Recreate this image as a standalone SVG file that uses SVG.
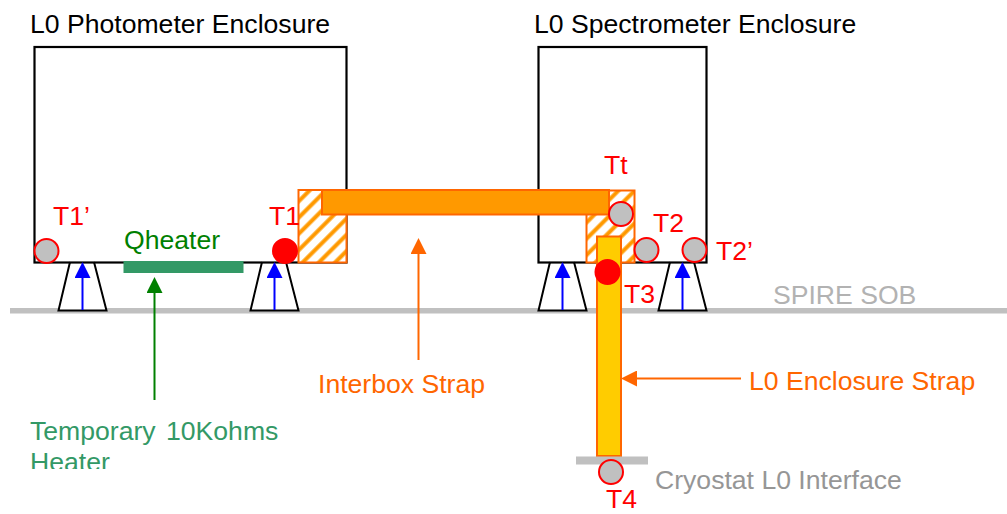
<svg xmlns="http://www.w3.org/2000/svg" width="1007" height="514" viewBox="0 0 1007 514">
<defs>
<pattern id="hatch" width="11.500" height="11.500" patternUnits="userSpaceOnUse" patternTransform="rotate(45 300 190)">
<rect width="11.500" height="11.500" fill="#fff"/>
<rect x="6.100" width="4" height="11.500" fill="#ff9900"/>
</pattern>
<marker id="ab" markerUnits="userSpaceOnUse" markerWidth="16" markerHeight="16" viewBox="0 0 16 16" refX="0" refY="8" orient="auto"><path d="M0 0L16 8L0 16Z" fill="context-stroke"/></marker>
<clipPath id="hclip"><rect x="0" y="400" width="320" height="69"/></clipPath>
</defs>
<style>
text{font-family:"Liberation Sans",Arial,sans-serif;font-size:26.6px}
.box{fill:none;stroke:#000;stroke-width:2.2}
.foot{fill:#fff;stroke:#000;stroke-width:2}
.up{stroke:#0000ff;stroke-width:2;fill:none}
.tg{fill:#c0c0c0;stroke:#ff0000;stroke-width:2}
.tf{fill:#ff0000;stroke:#ff0000;stroke-width:2}
.red{fill:#ff0000}
.hatch{fill:url(#hatch);stroke:#ff6600;stroke-width:2}
.ln{fill:none;stroke-width:2}
</style>
<rect id="sob" x="10" y="308" width="997" height="5.5" fill="#c0c0c0"/>
<g id="foot1"><path class="foot" d="M70 262L58.500 310.500H106.500L94 262"/></g>
<g id="foot2"><path class="foot" d="M262 262L250.500 310.500H298.500L286 262"/></g>
<g id="foot3"><path class="foot" d="M550 262L538.500 310.500H586.500L574 262"/></g>
<g id="foot4"><path class="foot" d="M670 262L658.500 310.500H706.500L694 262"/></g>
<g id="photometer"><rect class="box" x="34.500" y="47" width="312" height="215.500"/><text x="30" y="33">L0 Photometer Enclosure</text></g>
<g id="spectrometer"><rect class="box" x="538.500" y="47" width="168" height="215.500"/><text x="534" y="33">L0 Spectrometer Enclosure</text></g>
<g id="interbox-hatch-left"><rect class="hatch" x="298.500" y="190" width="48" height="72.500"/></g>
<g id="interbox-hatch-right"><rect class="hatch" x="586.500" y="190.500" width="48" height="72"/></g>
<g id="qheater"><rect x="123.500" y="261" width="120" height="12" fill="#339966"/><text x="124" y="249" fill="#008000">Qheater</text></g>
<g id="interbox"><rect x="322" y="190" width="287" height="24.500" fill="#ff9900" stroke="#ff6600" stroke-width="2"/><text x="318" y="393" fill="#ff6600">Interbox Strap</text></g>
<g id="l0strap"><rect x="597" y="236.500" width="24" height="219.500" fill="#ffcc00" stroke="#ff6600" stroke-width="2"/><text x="749" y="390" fill="#ff6600">L0 Enclosure Strap</text></g>
<g id="cryostat"><rect x="576" y="456.500" width="72" height="8" fill="#c0c0c0"/><text x="655" y="489" fill="#969696">Cryostat L0 Interface</text></g>
<text id="sob-label" x="773" y="304" fill="#b2b2b2">SPIRE SOB</text>
<g id="connectors">
<path class="up" d="M82.500 310V278" marker-end="url(#ab)"/>
<path class="up" d="M274.500 310V278" marker-end="url(#ab)"/>
<path class="up" d="M562.500 310V278" marker-end="url(#ab)"/>
<path class="up" d="M682.500 310V278" marker-end="url(#ab)"/>
<path class="ln" stroke="#008000" d="M154.500 400V293" marker-end="url(#ab)"/>
<path class="ln" stroke="#ff6600" d="M418.500 360V254" marker-end="url(#ab)"/>
<path class="ln" stroke="#ff6600" d="M741 378.500H637" marker-end="url(#ab)"/>
</g>
<g id="t1p"><circle class="tg" cx="46.500" cy="251" r="12"/><text class="red" x="53" y="225">T1’</text></g>
<g id="t1"><circle class="tf" cx="285" cy="251" r="12"/><text class="red" x="269" y="225">T1</text></g>
<g id="tt"><circle class="tg" cx="621" cy="214" r="12"/><text class="red" x="604" y="174">Tt</text></g>
<g id="t2"><circle class="tg" cx="646.500" cy="250" r="12"/><text class="red" x="653" y="232">T2</text></g>
<g id="t2p"><circle class="tg" cx="694.500" cy="250" r="12"/><text class="red" x="716" y="260">T2’</text></g>
<g id="t3"><circle class="tf" cx="607.500" cy="272" r="12"/><text class="red" x="624" y="303">T3</text></g>
<g id="t4"><circle class="tg" cx="611" cy="472" r="12"/><text class="red" x="606" y="508">T4</text></g>
<g id="heater-label" clip-path="url(#hclip)"><text x="30" y="440" fill="#339966" word-spacing="3">Temporary 10Kohms</text><text x="30" y="471" fill="#339966">Heater</text></g>
</svg>
